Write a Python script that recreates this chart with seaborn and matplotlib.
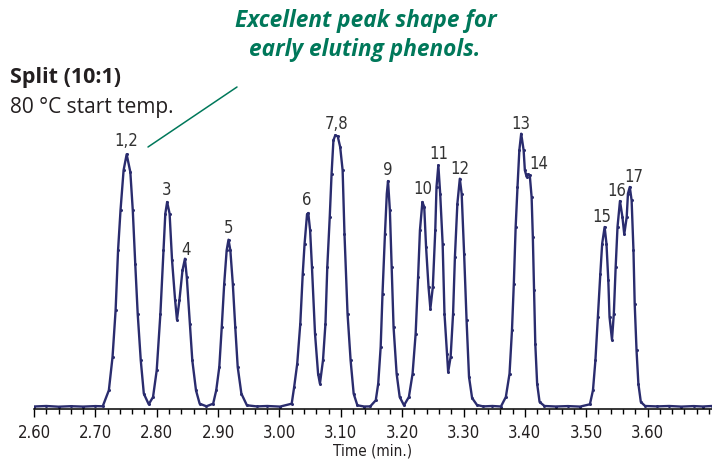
import matplotlib
matplotlib.use("Agg")
import matplotlib.pyplot as plt
import seaborn as sns

# Chromatogram trace (time in min, detector response in arbitrary units)
time_min = [
    2.600, 2.620, 2.640, 2.660, 2.680, 2.700, 2.712, 2.722, 2.728, 2.733, 2.737, 2.741, 2.746, 2.751,
    2.757, 2.761, 2.765, 2.769, 2.774, 2.779, 2.787, 2.794, 2.800, 2.806, 2.811, 2.814, 2.817,
    2.821, 2.825, 2.830, 2.833, 2.837, 2.842, 2.846, 2.849, 2.854, 2.858, 2.864, 2.870, 2.881,
    2.892, 2.897, 2.902, 2.906, 2.910, 2.914, 2.917, 2.920, 2.924, 2.928, 2.932, 2.938, 2.947,
    2.963, 2.980, 3.001, 3.020, 3.024, 3.029, 3.034, 3.038, 3.041, 3.045, 3.047, 3.050, 3.053,
    3.058, 3.063, 3.066, 3.071, 3.075, 3.078, 3.082, 3.085, 3.088, 3.091, 3.095, 3.099, 3.103,
    3.106, 3.111, 3.116, 3.121, 3.127, 3.138, 3.148, 3.157, 3.161, 3.165, 3.168, 3.172, 3.175,
    3.177, 3.180, 3.183, 3.186, 3.191, 3.196, 3.203, 3.211, 3.217, 3.222, 3.226, 3.229, 3.233,
    3.236, 3.239, 3.243, 3.246, 3.250, 3.254, 3.256, 3.259, 3.262, 3.266, 3.269, 3.273, 3.275,
    3.279, 3.283, 3.286, 3.290, 3.294, 3.297, 3.301, 3.305, 3.309, 3.314, 3.322, 3.332, 3.347,
    3.361, 3.369, 3.375, 3.379, 3.382, 3.385, 3.388, 3.391, 3.394, 3.398, 3.400, 3.403, 3.405,
    3.408, 3.411, 3.413, 3.415, 3.417, 3.420, 3.424, 3.432, 3.450, 3.470, 3.490, 3.506, 3.511,
    3.515, 3.519, 3.523, 3.526, 3.530, 3.533, 3.536, 3.538, 3.542, 3.545, 3.548, 3.551, 3.555,
    3.559, 3.562, 3.566, 3.568, 3.571, 3.574, 3.577, 3.579, 3.582, 3.585, 3.589, 3.596, 3.615,
    3.635, 3.655, 3.675, 3.690, 3.705,
]
response = [
    0.5, 1.0, 0.3, 0.8, 0.4, 0.9, 0.7, 16.7, 50.0, 96.7, 156.7, 196.7, 236.7, 252.7,
    235.0, 196.7, 143.3, 93.3, 46.7, 13.3, 2.7, 10.0, 36.7, 93.3, 156.7, 193.3, 205.0,
    193.3, 146.7, 106.7, 87.3, 106.7, 136.7, 148.3, 130.0, 83.3, 46.7, 16.7, 3.3, 0.7,
    3.3, 16.7, 40.0, 80.0, 123.3, 156.7, 167.3, 156.7, 123.3, 80.0, 40.0, 13.3, 1.7,
    0.6, 1.0, 0.4, 3.3, 20.0, 43.3, 83.3, 133.3, 163.3, 192.7, 194.0, 176.7, 140.0,
    73.3, 33.3, 23.3, 46.7, 83.3, 140.0, 190.0, 233.3, 266.7, 271.7, 270.7, 260.0, 236.7,
    173.3, 93.3, 46.7, 13.3, 1.7, 0.5, 0.6, 6.7, 23.3, 60.0, 113.3, 173.3, 213.3,
    226.0, 196.7, 140.0, 80.0, 33.3, 10.0, 1.7, 10.0, 33.3, 73.3, 130.0, 176.7, 205.0,
    200.0, 160.0, 120.0, 98.3, 120.0, 176.7, 220.0, 241.7, 213.3, 163.3, 93.3, 53.3, 35.0,
    50.0, 93.3, 150.0, 203.3, 228.3, 213.3, 153.3, 86.7, 30.0, 9.0, 2.0, 0.6, 1.0,
    0.5, 10.0, 33.3, 76.7, 123.3, 180.0, 220.0, 256.7, 273.3, 256.7, 236.7, 230.0, 232.7,
    231.7, 210.0, 170.0, 116.7, 63.3, 23.3, 5.0, 1.0, 0.5, 0.9, 0.4, 2.7, 16.7,
    46.7, 90.0, 133.3, 163.3, 180.0, 163.3, 126.7, 90.0, 67.3, 93.3, 140.0, 180.0, 206.0,
    190.0, 172.7, 190.0, 213.3, 220.0, 206.7, 156.7, 103.3, 56.7, 23.3, 5.0, 1.0, 0.6,
    1.0, 0.4, 0.9, 0.5, 1.0,
]

# Peak labels and the spot each one sits at
peak_labels = ["1,2", "3", "4", "5", "6", "7,8", "9", "10", "11", "12",
               "13", "14", "15", "16", "17"]
label_time = [2.751, 2.816, 2.847, 2.917, 3.045, 3.093, 3.177, 3.233, 3.260, 3.294,
              3.394, 3.422, 3.526, 3.549, 3.577]
label_resp = [267, 218, 158, 180, 208, 284, 238, 219, 254, 239,
              284, 244, 191, 217, 231]

tick_values = [2.60, 2.70, 2.80, 2.90, 3.00, 3.10, 3.20, 3.30, 3.40, 3.50, 3.60]

trace_color = "#2a2c6e"
note_color = "#00785a"
text_color = "#231f20"

sns.set_style("ticks")
plt.rcParams["font.family"] = ["DejaVu Sans"]
plt.rcParams["font.stretch"] = "condensed"

fig = plt.figure(figsize=(7.12, 4.60), dpi=100)
ax = fig.add_axes([34 / 712, 1 - 410 / 460, 678 / 712, 280 / 460])

sns.lineplot(x=time_min, y=response, ax=ax, color=trace_color, linewidth=1.7,
             marker="o", markersize=2.2, markeredgewidth=0, sort=False)

ax.set_xlim(2.60, 3.705)
ax.set_ylim(-2, 278)
ax.set_xticks(tick_values)
ax.set_xticklabels([f"{v:.2f}" for v in tick_values])
ax.set_xticks([2.60 + 0.02 * i for i in range(56)], minor=True)
ax.tick_params(axis="x", which="major", length=6, width=1, color="black",
               labelsize=12, labelcolor=text_color, pad=4)
ax.tick_params(axis="x", which="minor", length=3.5, width=1, color="black")
ax.set_yticks([])
ax.set_xlabel("Time (min.)", fontsize=11, color=text_color, labelpad=1.5)
ax.set_ylabel("")
for side in ["left", "right", "top"]:
    ax.spines[side].set_visible(False)
ax.spines["bottom"].set_linewidth(1.1)
ax.spines["bottom"].set_color("black")

for lab, t, r in zip(peak_labels, label_time, label_resp):
    ax.text(t, r, lab, ha="center", va="center", fontsize=12, color="#333333",
            clip_on=False)

# Left-hand method text
fig.text(10 / 712, 1 - 78 / 460, "Split (10:1)", fontsize=15.5, fontweight="bold",
         color=text_color, va="center", ha="left", family=["Open Sans", "DejaVu Sans"],
         fontstretch="normal")
fig.text(10 / 712, 1 - 107 / 460, "80 °C start temp.", fontsize=15,
         color=text_color, va="center", ha="left", family=["Open Sans", "DejaVu Sans"],
         fontstretch="normal")

# Callout
fig.text(366 / 712, 1 - 21 / 460, "Excellent peak shape for", fontsize=16.3,
         fontweight="bold", fontstyle="italic", color=note_color, ha="center",
         va="center", family=["Open Sans", "DejaVu Sans"], fontstretch="normal")
fig.text(365 / 712, 1 - 50 / 460, "early eluting phenols.", fontsize=16.3,
         fontweight="bold", fontstyle="italic", color=note_color, ha="center",
         va="center", family=["Open Sans", "DejaVu Sans"], fontstretch="normal")
fig.add_artist(plt.Line2D([148 / 712, 237 / 712], [1 - 148 / 460, 1 - 88 / 460],
                          color=note_color, linewidth=1.1))

fig.savefig("out.png", dpi=100)
